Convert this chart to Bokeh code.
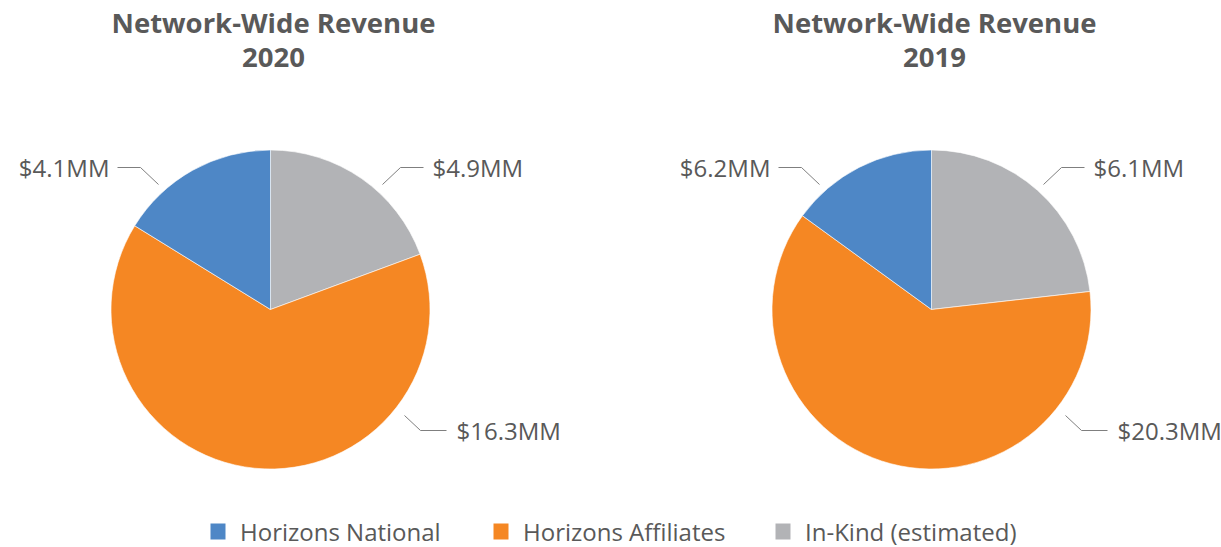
import numpy as np
from bokeh.plotting import figure
from bokeh.models import Range1d, ColumnDataSource
from bokeh.core.properties import value
from bokeh.embed import file_html
from bokeh.resources import INLINE

# ---- data ----
categories = ["Horizons National", "Horizons Affiliates", "In-Kind (estimated)"]
colors = ["#4E87C6", "#F58723", "#B2B3B6"]
years = ["2020", "2019"]
# slice sizes as drawn in the picture
shares_2020 = [4.1, 16.3, 4.9]
shares_2019 = [15.0, 61.8, 23.2]   # drawn shares (percent)
labels_2020 = ["$4.1MM", "$16.3MM", "$4.9MM"]
labels_2019 = ["$6.2MM", "$20.3MM", "$6.1MM"]

W, H = 1221, 547
p = figure(width=W, height=H, output_backend="svg", toolbar_location=None,
           x_range=Range1d(0, W), y_range=Range1d(0, H), min_border=0)
p.axis.visible = False
p.grid.visible = False
p.outline_line_color = None
p.background_fill_color = "white"
p.border_fill_color = "white"

TXT = "#595959"
FONT = "Open Sans"
LBL = "24px"
R = 159.5
centers = [(270, 238), (931, 238)]
# draw order clockwise from 12 o'clock: In-Kind, Affiliates, National
order = [2, 1, 0]

for (cx, cy), shares, labels, yr in zip(centers, [shares_2020, shares_2019],
                                        [labels_2020, labels_2019], years):
    vals = np.array([shares[i] for i in order], dtype=float)
    frac = vals / vals.sum()
    cum = np.concatenate([[0], np.cumsum(frac)])
    start = np.pi / 2 - 2 * np.pi * cum[:-1]
    end = np.pi / 2 - 2 * np.pi * cum[1:]
    src = ColumnDataSource(dict(start=start, end=end, color=[colors[i] for i in order]))
    p.wedge(x=cx, y=cy, radius=R, start_angle="start", end_angle="end",
            direction="clock", fill_color="color", line_color="white",
            line_width=0.6, source=src)

    # titles
    p.text(x=[cx + 3, cx + 3], y=[H - 22, H - 57], text=["Network-Wide Revenue", yr],
           text_font=value(FONT), text_font_style="bold", text_font_size="27.5px",
           text_color=TXT, text_align="center", text_baseline="middle")

    # leader lines (relative to pie centre) and labels
    # National (upper-left)
    p.line(x=[cx - 153, cx - 130, cx - 112], y=[cy + 142, cy + 142, cy + 125],
           line_color="#7f7f7f", line_width=1)
    p.text(x=[cx - 161], y=[cy + 142], text=[labels[0]], text_font=value(FONT),
           text_font_size=LBL, text_color=TXT, text_align="right", text_baseline="middle")
    # In-Kind (upper-right)
    p.line(x=[cx + 112, cx + 130, cx + 153], y=[cy + 125, cy + 142, cy + 142],
           line_color="#7f7f7f", line_width=1)
    p.text(x=[cx + 162], y=[cy + 142], text=[labels[2]], text_font=value(FONT),
           text_font_size=LBL, text_color=TXT, text_align="left", text_baseline="middle")
    # Affiliates (lower-right)
    p.line(x=[cx + 134, cx + 150, cx + 176], y=[cy - 106, cy - 121, cy - 121],
           line_color="#7f7f7f", line_width=1)
    p.text(x=[cx + 186], y=[cy - 121], text=[labels[1]], text_font=value(FONT),
           text_font_size=LBL, text_color=TXT, text_align="left", text_baseline="middle")

# legend
leg_x = [217.5, 500.5, 782.5]
p.rect(x=leg_x, y=[16] * 3, width=15, height=16, fill_color=colors, line_color=None)
p.text(x=[x + 22 for x in leg_x], y=[16] * 3, text=categories, text_font=value(FONT),
       text_font_size="24px", text_color=TXT, text_align="left", text_baseline="middle")

open("out.html", "w").write(file_html(p, INLINE))
